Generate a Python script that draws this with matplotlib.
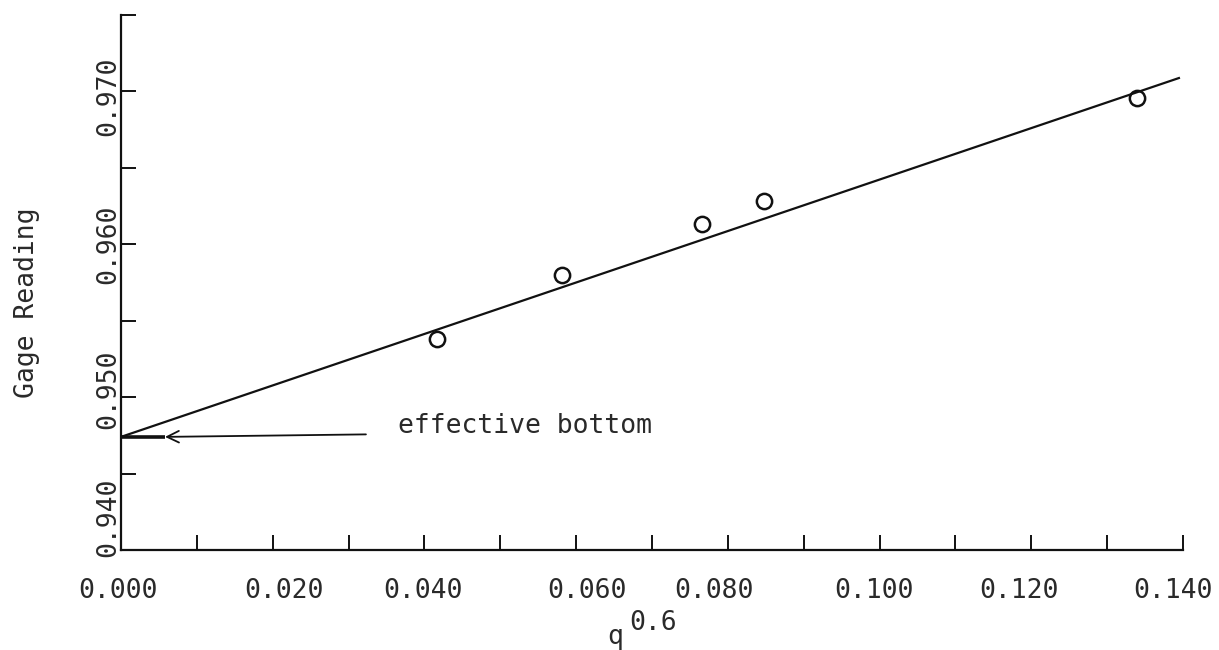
import matplotlib
matplotlib.use("Agg")
import matplotlib.pyplot as plt
import matplotlib.transforms as mtransforms

# Data
q06 = [0.0417, 0.0581, 0.0766, 0.0848, 0.1339]
gage = [0.9538, 0.9580, 0.9613, 0.9628, 0.9696]
fit_x = [0.0, 0.1396]
fit_y = [0.9474, 0.9709]
effective_bottom = 0.9474

x_major = [0.000, 0.020, 0.040, 0.060, 0.080, 0.100, 0.120, 0.140]
x_labels = ["0.000", "0.020", "0.040", "0.060", "0.080", "0.100", "0.120", "0.140"]
x_minor = [0.010, 0.030, 0.050, 0.070, 0.090, 0.110, 0.130]
y_major = [0.940, 0.950, 0.960, 0.970]
y_labels = ["0.940", "0.950", "0.960", "0.970"]
y_minor = [0.945, 0.955, 0.965, 0.975]

# hand-typed label offsets (pixels) as they appear in the original
x_label_shift = [-3, 11, -1, 11, -14, -6, -12, -10]
y_label_shift = [33, 8, 0, -5]

FONT = "DejaVu Sans Mono"
plt.rcParams['font.family'] = [FONT]

TXT = '#2a2a2a'
INK = '#111111'
FS = 19

fig = plt.figure(figsize=(12.19, 6.5), dpi=100)
ax = fig.add_axes([121/1219, 1 - 550/650, (1183 - 121)/1219, (550 - 15)/650])

ax.plot(fit_x, fit_y, color=INK, lw=1.6, solid_capstyle='butt')
ax.plot(q06, gage, linestyle='none', marker='o', ms=11, mfc='none',
        mec=INK, mew=1.8)

ax.set_xlim(0.0, 0.140)
ax.set_ylim(0.940, 0.975)

for s in ['top', 'right']:
    ax.spines[s].set_visible(False)
for s in ['left', 'bottom']:
    ax.spines[s].set_linewidth(1.6)
    ax.spines[s].set_color(INK)

ax.set_xticks(x_major)
ax.set_xticklabels(x_labels)
ax.set_xticks(x_minor, minor=True)
ax.set_yticks(y_major)
ax.set_yticklabels(y_labels, rotation=90, va='center')
ax.set_yticks(y_minor, minor=True)

ax.tick_params(axis='both', which='both', direction='in', length=11, width=1.4,
               color=INK)
ax.tick_params(axis='x', which='major', pad=20, labelsize=FS, labelcolor=TXT)
ax.tick_params(axis='y', which='major', pad=0, labelsize=FS, labelcolor=TXT)

for lab, dx in zip(ax.get_xticklabels(), x_label_shift):
    lab.set_transform(lab.get_transform() +
                      mtransforms.ScaledTranslation(dx/100, 0, fig.dpi_scale_trans))
for lab, dy in zip(ax.get_yticklabels(), y_label_shift):
    lab.set_transform(lab.get_transform() +
                      mtransforms.ScaledTranslation(0, dy/100, fig.dpi_scale_trans))

ax.set_ylabel("Gage Reading", fontsize=FS, color=TXT)
ax.yaxis.set_label_coords((27 - 121)/1062, (550 - 303)/535)
ax.yaxis.label.set_verticalalignment('center')

ax.set_xlabel("q", fontsize=FS, color=TXT)
ax.xaxis.set_label_coords((615 - 121)/1062, (550 - 637)/535)
ax.xaxis.label.set_verticalalignment('center')
ax.text((653 - 121)/1062, (550 - 623)/535, "0.6", transform=ax.transAxes,
        fontsize=FS, color=TXT, ha='center', va='center')

# arrow: head a little to the right of the axis, shaft running on to the axis
head_x = 0.0058
ax.annotate("effective bottom", xy=(head_x, effective_bottom),
            xytext=(0.0365, 0.9481), fontsize=FS, color=TXT,
            ha='left', va='center',
            arrowprops=dict(arrowstyle='->,head_length=0.45,head_width=0.22',
                            color=INK, lw=1.3, relpos=(0, 0.2),
                            shrinkA=21, shrinkB=0))
ax.plot([0.0, head_x], [effective_bottom, effective_bottom], color=INK,
        lw=2.6, solid_capstyle='butt')

fig.savefig("out.png", dpi=100)
